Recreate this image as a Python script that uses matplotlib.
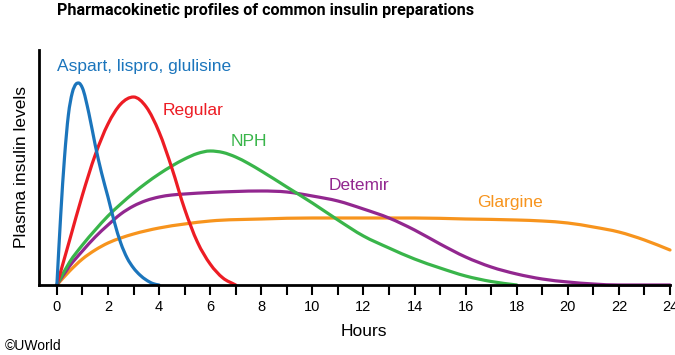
import matplotlib
matplotlib.use("Agg")
import matplotlib.pyplot as plt
import numpy as np
from matplotlib.path import Path
from matplotlib.patches import PathPatch

plt.rcParams['font.family'] = ['Liberation Sans', 'DejaVu Sans']

# Data (y in arbitrary units)
aspart_t = [0, 0.15, 0.3, 0.45, 0.6, 0.75, 0.85, 1.0, 1.25, 1.5, 1.75, 2.0, 2.25, 2.5, 2.75, 3.0, 3.25, 3.5, 3.75, 4.0]
aspart_y = [0, 70, 128, 170, 192, 201, 202, 197, 172, 140, 112, 88, 63, 42, 27, 17, 10, 5, 1.5, 0]

regular_t = [0, 0.5, 1, 1.5, 2, 2.5, 3, 3.5, 4, 4.5, 5, 5.5, 6, 6.5, 7]
regular_y = [0, 45, 90, 130, 161, 181, 188, 178, 153, 117, 76, 43, 21, 7, 0]

nph_t = [0, 0.5, 1, 1.5, 2, 2.5, 3, 3.5, 4, 4.5, 5, 5.5, 6, 6.5, 7, 7.5, 8, 9, 10, 11, 12, 13, 14, 15, 16, 17, 18]
nph_y = [0, 23, 40, 55, 69, 81, 92, 102, 111, 119, 126, 131.5, 134, 132.5, 128, 121.5, 114, 98, 82, 65, 49, 37, 26, 17, 9, 3.5, 0]

detemir_t = [0, 0.5, 1, 1.5, 2, 2.5, 3, 3.5, 4, 4.5, 5, 6, 8, 9, 10, 11, 12, 13, 14, 15, 16, 17, 18, 19, 20, 21, 22, 24]
detemir_y = [0, 19, 34, 48, 60, 71, 79, 84.5, 88, 90, 91, 92.5, 94, 93, 89, 84, 76, 67, 55, 41, 28, 18, 11, 6, 3, 1, 0, 0]

glargine_t = [0, 0.5, 1, 1.5, 2, 2.5, 3, 4, 5, 6, 8, 10, 12, 14, 16, 18, 19, 20, 21, 22, 23, 24]
glargine_y = [0, 14, 26, 35, 42, 47, 51, 57, 61, 64, 66, 67, 67, 67, 66, 65, 64, 62, 58, 53, 45, 35]

series = [
    ("Aspart, lispro, glulisine", aspart_t, aspart_y, "#1b75bc", (0.0, 218)),
    ("Regular", regular_t, regular_y, "#ed1c24", (4.12, 175)),
    ("NPH", nph_t, nph_y, "#39b54a", (6.81, 143)),
    ("Detemir", detemir_t, detemir_y, "#92278f", (10.63, 100)),
    ("Glargine", glargine_t, glargine_y, "#f7941d", (16.46, 82)),
]

hour_ticks = list(range(0, 25))
hour_labels = [str(h) if h % 2 == 0 else "" for h in hour_ticks]


def hermite_path(t, y):
    """Smooth cubic Hermite (Bezier) path through the read points."""
    t = np.asarray(t, float)
    y = np.asarray(y, float)
    h = np.diff(t)
    d = np.diff(y) / h
    n = len(t)
    m = np.zeros(n)
    m[0] = d[0]
    m[-1] = d[-1]
    for k in range(1, n - 1):
        if d[k - 1] * d[k] <= 0:
            m[k] = 0.0
        else:
            m[k] = (d[k - 1] * h[k] + d[k] * h[k - 1]) / (h[k - 1] + h[k])
    verts = [(t[0], y[0])]
    codes = [Path.MOVETO]
    for i in range(n - 1):
        verts += [(t[i] + h[i] / 3, y[i] + m[i] * h[i] / 3),
                  (t[i + 1] - h[i] / 3, y[i + 1] - m[i + 1] * h[i] / 3),
                  (t[i + 1], y[i + 1])]
        codes += [Path.CURVE4] * 3
    return Path(verts, codes)


fig = plt.figure(figsize=(6.75, 3.55), dpi=100)
ax = fig.add_axes([39/675, (355-285)/355, (670-39)/675, (285-50)/355])

# draw in reverse so that blue is on top
for name, t, y, c, pos in reversed(series):
    ax.add_patch(PathPatch(hermite_path(t, y), facecolor='none', edgecolor=c,
                           lw=2.3, capstyle='round', joinstyle='round', clip_on=False))
for name, t, y, c, pos in series:
    ax.text(pos[0], pos[1], name, color=c, fontsize=12.5, ha='left', va='center')

ax.set_xlim(-0.7, 24)
ax.set_ylim(0, 235)
ax.set_xticks(hour_ticks)
ax.set_xticklabels(hour_labels, fontsize=10.5)
ax.set_yticks([])
ax.tick_params(axis='x', direction='out', length=7, width=1.5, pad=4)
for s in ['top', 'right']:
    ax.spines[s].set_visible(False)
for s in ['left', 'bottom']:
    ax.spines[s].set_linewidth(2)

ax.set_xlabel("Hours", fontsize=12.5, va='center')
ax.xaxis.set_label_coords((364-39)/631, (285-332)/235)
ax.set_ylabel("Plasma insulin levels", fontsize=12.5, labelpad=7)

fig.text(266/675, 1 - 11/355, "Pharmacokinetic profiles of common insulin preparations",
         ha='center', va='center', fontsize=11.6, fontweight='bold',
         family=['Roboto', 'Liberation Sans', 'DejaVu Sans'])
fig.text(5/675, 1 - 346/355, "©UWorld", ha='left', va='center', fontsize=10)

fig.savefig("out.png", dpi=100)
